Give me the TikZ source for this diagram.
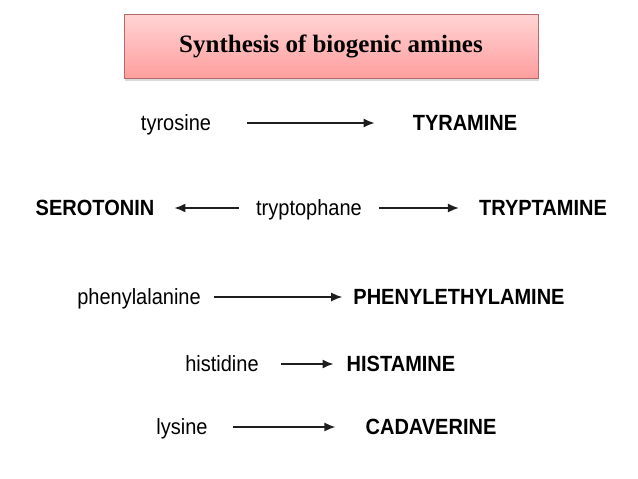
\documentclass[tikz,border=0pt]{standalone}
\usepackage{fontspec}
\setmainfont{Liberation Sans}
\newfontfamily\titlefont{Liberation Serif}
\usetikzlibrary{arrows.meta,shadows}

\definecolor{boxtop}{HTML}{FFD4D4}
\definecolor{boxbottom}{HTML}{FF9E9E}
\definecolor{boxline}{HTML}{B86A6A}
\definecolor{arrowgray}{HTML}{1E1E1E}

% the scanned words are a little taller than they are wide
\newcommand{\tallword}[1]{\scalebox{1}[1.1]{#1}}

\tikzset{
  acid/.style={inner sep=0pt, text height=15.8pt, text depth=0pt,
    font=\fontsize{20}{20}\selectfont},
  amine/.style={acid, font=\fontsize{20}{20}\selectfont\bfseries},
  titlebox/.style={draw=boxline, line width=0.8pt, top color=boxtop,
    bottom color=boxbottom, minimum width=414pt, minimum height=64pt,
    drop shadow={opacity=0.3, shadow xshift=1pt, shadow yshift=-3pt},
    font=\titlefont\bfseries\fontsize{25}{25}\selectfont}
}

\begin{document}
\begin{tikzpicture}[x=1pt, y=-1pt,
  every edge/.style={draw=arrowgray, line width=1.5pt,
    -{Latex[length=11pt,width=9pt]}}]
  \useasboundingbox (0,0) rectangle (638,479);
  \node[titlebox] (title) at (331,46) {Synthesis of biogenic amines};
  % amino acids and their amines
  \node[acid] (tyr) at (176,123) {\tallword{tyrosine}};
  \node[amine] (tyra) at (465,123) {\tallword{TYRAMINE}};
  \node[amine] (sero) at (95,208) {\tallword{SEROTONIN}};
  \node[acid] (trp) at (309,208) {\tallword{tryptophane}};
  \node[amine] (trpa) at (543,208) {\tallword{TRYPTAMINE}};
  \node[acid] (phe) at (139,297) {\tallword{phenylalanine}};
  \node[amine] (phea) at (459,297) {\tallword{PHENYLETHYLAMINE}};
  \node[acid] (his) at (222,364) {\tallword{histidine}};
  \node[amine] (hisa) at (401,364) {\tallword{HISTAMINE}};
  \node[acid] (lys) at (182,427) {\tallword{lysine}};
  \node[amine] (lysa) at (431,427) {\tallword{CADAVERINE}};
 \path
  (tyr) edge[shorten <=36pt, shorten >=38pt] (tyra)
  (trp) edge[shorten <=17pt, shorten >=20pt] (sero)
  (trp) edge[shorten <=17pt, shorten >=20pt] (trpa)
  (phe) edge[shorten <=13pt, shorten >=11pt] (phea)
  (his) edge[shorten <=22pt, shorten >=13pt] (hisa)
  (lys) edge[shorten <=25pt, shorten >=30pt] (lysa);
\end{tikzpicture}
\end{document}
